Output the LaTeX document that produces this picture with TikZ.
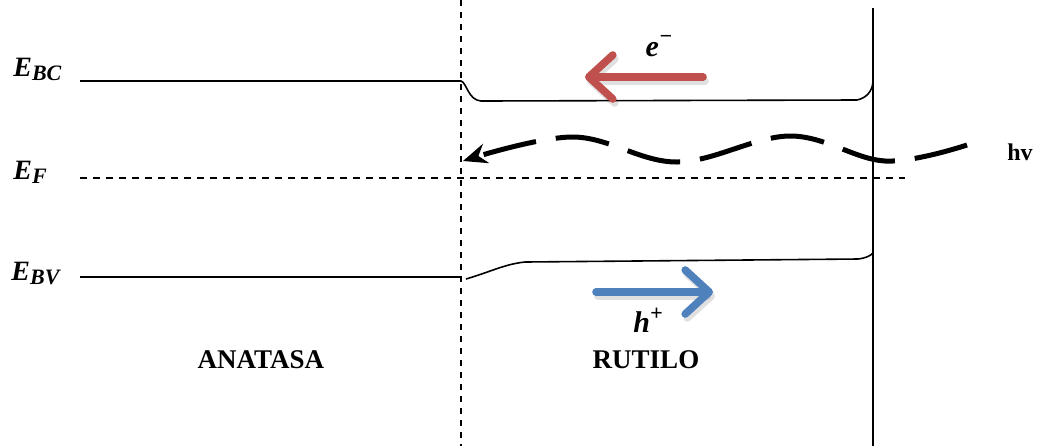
\documentclass[tikz,border=0pt]{standalone}
\usepackage{fontspec}
\setmainfont{Liberation Serif}
\usetikzlibrary{arrows.meta}
\definecolor{redarr}{RGB}{192,80,77}
\definecolor{bluearr}{RGB}{79,129,189}
\newcommand{\mysub}[1]{\raisebox{-0.35ex}{\fontsize{11}{12}\selectfont #1}}
\newcommand{\mysup}[1]{\raisebox{0.9ex}{\fontsize{11}{12}\selectfont #1}}
\begin{document}
\begin{tikzpicture}[x=0.5pt,y=-0.5pt,
  band/.style={line width=0.8pt},
  vdash/.style={line width=1pt, dash pattern=on 3pt off 3pt},
  fdash/.style={line width=0.7pt, dash pattern=on 3.5pt off 3pt},
  lbl/.style={font=\bfseries\fontsize{13.5}{15}\selectfont},
  elbl/.style={font=\bfseries\itshape\fontsize{14}{16}\selectfont, inner sep=0pt},
  bigarrow/.style={line width=3.8pt, line cap=round, -{Straight Barb[round,length=12pt,width=22pt]}},
  shadowarrow/.style={bigarrow, black, opacity=0.12},
  wave/.style={line width=2.5pt, dash pattern=on 27pt off 10pt, -{Stealth[length=12pt,width=10pt]}}
]
\useasboundingbox (0,0) rectangle (1038,446);

% interface lines
\coordinate (dTop) at (461,0);
\coordinate (dBot) at (461,446);
\coordinate (sTop) at (873,8);
\coordinate (sBot) at (873,446);
\draw[vdash] (dTop) -- (dBot);
\draw[line width=1pt] (sTop) -- (sBot);

% conduction band
\coordinate (bcL) at (80,81);
\coordinate (bcJ) at (461,81);
\coordinate (bcR) at (873,82);
\draw[band] (bcL) -- (bcJ) .. controls (467,83) and (468,100) .. (481,101)
  -- (857,100) .. controls (866,98) and (872,92) .. (bcR);

% Fermi level
\coordinate (efL) at (80,178);
\coordinate (efR) at (905,178);
\draw[fdash] (efL) -- (efR);

% valence band
\coordinate (bvL) at (80,277);
\coordinate (bvJ) at (461,277);
\coordinate (bvS) at (466,279);
\coordinate (bvR) at (873,253);
\draw[band] (bvL) -- (bvJ);
\draw[band] (bvS) .. controls (490,272) and (505,264) .. (525,262)
  -- (858,259) .. controls (866,258) and (870,256) .. (bvR);

% electron arrow
\coordinate (eS) at (703,77);
\coordinate (eE) at (585,77);
\draw[shadowarrow] ([shift={(2,4)}]eS) -- ([shift={(2,4)}]eE);
\draw[bigarrow, redarr] (eS) -- (eE);

% hole arrow
\coordinate (hS) at (596,292);
\coordinate (hE) at (713,292);
\draw[shadowarrow] ([shift={(2,4)}]hS) -- ([shift={(2,4)}]hE);
\draw[bigarrow, bluearr] (hS) -- (hE);

% photon wave
\coordinate (wS) at (967,145);
\coordinate (wE) at (463,161);
\draw[wave] plot[smooth, tension=0.6] coordinates {(wS) (885,161) (790,136) (677,162) (573,137) (wE)};

% labels
\node[elbl, anchor=base west] (lbc) at (13,76) {E\mysub{BC}};
\node[elbl, anchor=base west] (lef) at (13,179) {E\mysub{F}};
\node[elbl, anchor=base west] (lbv) at (11,280) {E\mysub{BV}};
\node[elbl, font=\bfseries\itshape\fontsize{15}{17}\selectfont] (le) at (659,46) {e\mysup{\char"2212}};
\node[elbl, font=\bfseries\itshape\fontsize{15}{17}\selectfont] (lh) at (648,320) {h\mysup{+}};
\node[font=\bfseries\fontsize{12}{14}\selectfont] (lhv) at (1020,152) {hv};
\node[lbl] (lan) at (261,360) {ANATASA};
\node[lbl] (lru) at (646,360) {RUTILO};
\end{tikzpicture}
\end{document}
